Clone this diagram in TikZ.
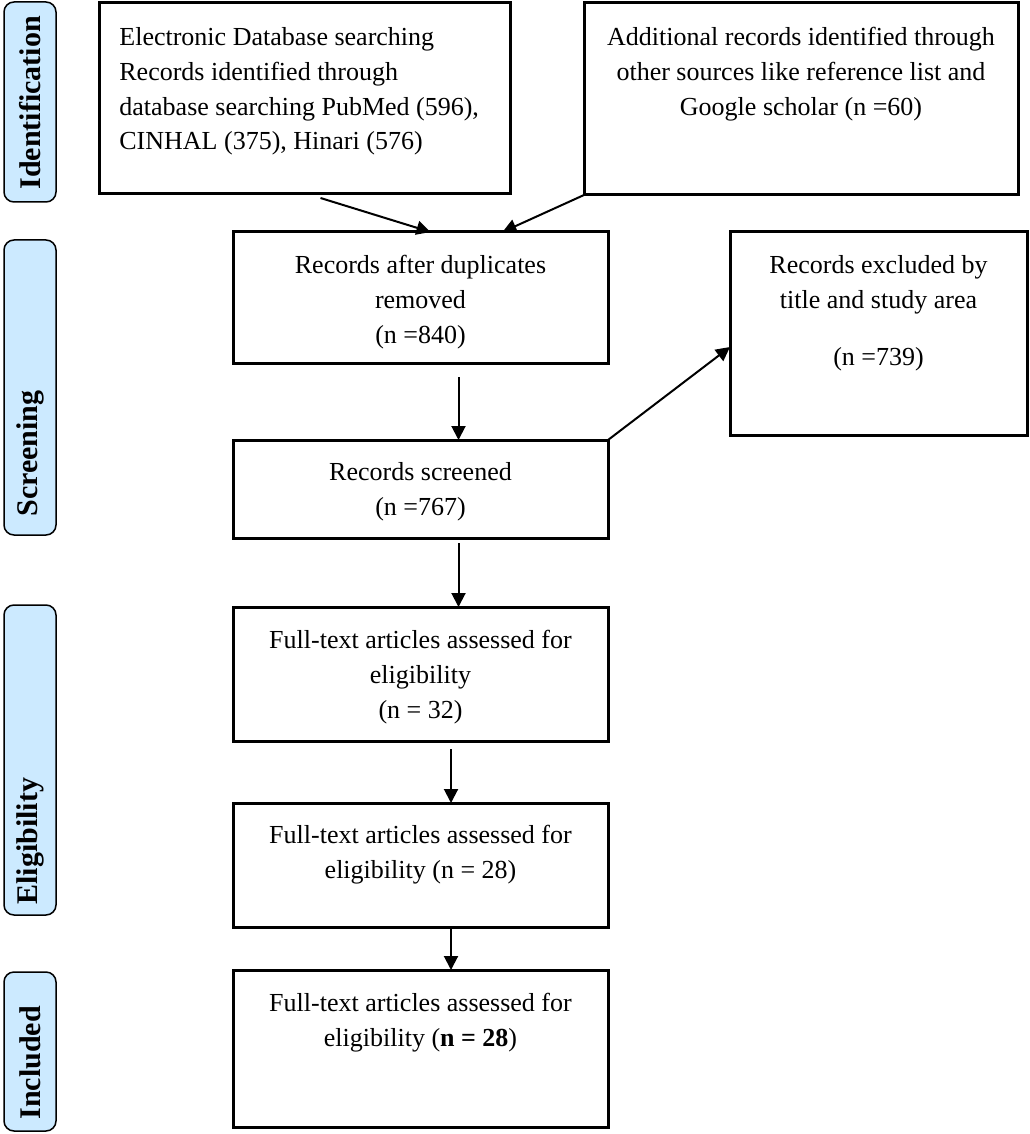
\documentclass[tikz,border=0pt]{standalone}
\usepackage{fontspec}
\setmainfont{Liberation Serif}
\usetikzlibrary{arrows.meta,positioning}
\definecolor{stageblue}{RGB}{204,234,255}
\tikzset{
	box/.style={draw, line width=1.5pt, rectangle, minimum width=187.5pt, inner sep=0pt, outer sep=0pt},
	boxtext/.style={inner sep=0pt, align=center, font=\fontsize{13}{17.4}\selectfont},
	stage/.style={draw, line width=0.75pt, fill=stageblue, rounded corners=5pt, minimum width=26pt, inner sep=0pt, outer sep=0pt},
	stagetext/.style={rotate=90, anchor=west, inner sep=0pt, font=\fontsize{15}{18}\selectfont\bfseries},
	flow/.style={line width=1pt, -{Triangle[length=7pt,width=7pt]}}
}
\begin{document}
\begin{tikzpicture}[x=0.5pt,y=-0.5pt]
		\useasboundingbox (0,0) rectangle (1029,1134);
		% stages
		\node[stage, minimum height=100pt] at (30,102)(ident){};
		\node[stage, minimum height=147.5pt] at (30,387.5)(screen){};
		\node[stage, minimum height=155pt] at (30,760)(elig){};
		\node[stage, minimum height=79.5pt] at (30,1051.5)(incl){};
		\node[stagetext] at ([yshift=6pt]ident.south){Identification};
		\node[stagetext] at ([yshift=9pt]screen.south){Screening};
		\node[stagetext] at ([yshift=5pt]elig.south){Eligibility};
		\node[stagetext] at ([yshift=5.5pt]incl.south){Included};
		% boxes
		\node[box, minimum width=205.5pt, minimum height=95.5pt] at (304.5,98.5)(A){};
		\node[box, minimum width=217pt, minimum height=96pt] at (801,99)(B){};
		\node[box, minimum height=65.5pt] at (420.5,297.5)(C){};
		\node[box, minimum width=148.5pt, minimum height=101.5pt] at (878.5,333.5)(D){};
		\node[box, minimum height=49pt] at (420.5,489)(E){};
		\node[box, minimum height=67pt] at (420.5,674)(F){};
		\node[box, minimum height=62pt] at (420.5,865)(G){};
		\node[box, minimum height=78.5pt] at (420.5,1048.5)(H){};
		\node[boxtext, align=left, anchor=north west] at ([shift={(10pt,-12pt)}]A.north west)
			{Electronic Database searching\\Records identified through\\database searching PubMed (596),\\CINHAL (375), Hinari (576)};
		\node[boxtext, below=12pt of B.north]{Additional records identified through\\other sources like reference list and\\Google scholar (n =60)};
		\node[boxtext, below=11.5pt of C.north]{Records after duplicates\\removed\\(n =840)};
		\node[boxtext, below=11.5pt of D.north]{Records excluded by\\title and study area\\[11pt](n =739)};
		\node[boxtext, below=11pt of E.north]{Records screened\\(n =767)};
		\node[boxtext, below=11.5pt of F.north]{Full-text articles assessed for\\eligibility\\(n = 32)};
		\node[boxtext, below=11pt of G.north]{Full-text articles assessed for\\eligibility (n = 28)};
		\node[boxtext, below=11.5pt of H.north]{Full-text articles assessed for\\eligibility (\textbf{n = 28})};
		% arrows
		\draw[flow] ([shift={(8pt,-2pt)}]A.south) -- ([xshift=5pt]C.north);
		\draw[flow] (B.south west) -- ([xshift=41pt]C.north);
		\draw[flow] ([shift={(19pt,-7pt)}]C.south) -- ([xshift=19pt]E.north);
		\draw[flow] (E.north east) -- ([yshift=-6.75pt]D.west);
		\draw[flow] ([shift={(19pt,-2.5pt)}]E.south) -- ([xshift=19pt]F.north);
		\draw[flow] ([shift={(15.25pt,-4pt)}]F.south) -- ([xshift=15.25pt]G.north);
		\draw[flow] ([xshift=15.25pt]G.south) -- ([xshift=15.25pt]H.north);
	\end{tikzpicture}
\end{document}
